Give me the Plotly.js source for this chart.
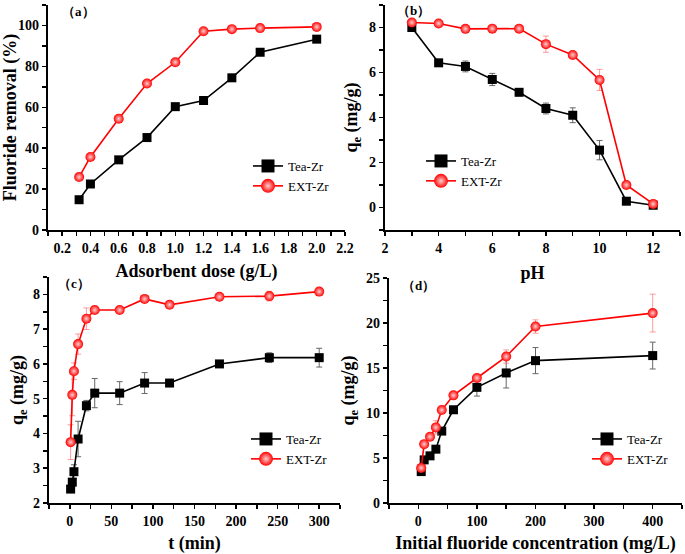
<!DOCTYPE html>
<html><head><meta charset="utf-8">
<script src="https://cdn.plot.ly/plotly-3.0.1.min.js"></script>
<style>html,body{margin:0;padding:0;background:#fff}#c{width:685px;height:554px}</style>
</head><body><div id="c"></div>
<script>
// (a) adsorbent dose
const doseX = [0.32,0.4,0.6,0.8,1.0,1.2,1.4,1.6,2.0];
const doseTea = [14.8,22.5,34.3,45.2,60.3,63.3,74.4,86.9,93.3];
const doseExt = [25.9,35.7,54.4,71.6,82.0,97.2,98.2,98.7,99.3];
// (b) pH
const phX = [3,4,5,6,7,8,9,10,11,12];
const phTea = [8.0,6.43,6.27,5.69,5.12,4.40,4.10,2.55,0.28,0.10];
const phTeaErr = [0.05,0.05,0.24,0.27,0.05,0.24,0.33,0.43,0.12,0.05];
const phExt = [8.22,8.18,7.94,7.95,7.95,7.26,6.78,5.67,1.0,0.16];
const phExtErr = [0.03,0.03,0.03,0.03,0.03,0.36,0.05,0.47,0.05,0.05];
// (c) contact time
const timeX = [1,3,5,10,20,30,60,90,120,180,240,300];
const timeTea = [2.40,2.60,2.90,3.84,4.80,5.16,5.16,5.45,5.45,6.00,6.18,6.18];
const timeTeaErr = [0.05,0.1,0.2,0.51,0.15,0.42,0.33,0.3,0.05,0.05,0.14,0.27];
const timeExt = [3.75,5.11,5.79,6.57,7.30,7.55,7.55,7.87,7.70,7.93,7.95,8.08];
const timeExtErr = [0.5,0.6,0.24,0.29,0.31,0.05,0.05,0.05,0.05,0.05,0.14,0.05];
// (d) initial fluoride concentration
const concX = [5,10,20,30,40,60,100,150,200,400];
const concTea = [3.49,4.79,5.24,5.98,7.99,10.36,12.85,14.45,15.82,16.38];
const concTeaErr = [0.2,0.2,0.3,0.3,0.2,0.2,0.97,1.67,1.45,1.49];
const concExt = [3.9,6.54,7.36,8.4,10.33,11.96,13.89,16.27,19.61,21.1];
const concExtErr = [0.2,0.2,0.3,0.74,0.3,0.2,0.2,0.74,0.74,2.1];

const seriesNames = ['Tea-Zr','EXT-Zr'];
const panelLabels = ['（a）','（b）','（c）','（d）'];
const xTitles = ['Adsorbent dose (g/L)','pH','t (min)','Initial fluoride concentration (mg/L)'];
const yTitles = ['Fluoride removal (%)','q<sub>e</sub> (mg/g)','q<sub>e</sub> (mg/g)','q<sub>e</sub> (mg/g)'];

const FONT = '"Liberation Serif", serif';
const teaMarker = {symbol:'square', size:9, color:'#000'};
const extMarker = {symbol:'circle', size:10, color:'#ff0000', gradient:{type:'radial', color:'#ffd0d0'}};
const teaErrStyle = {type:'data', visible:true, color:'#666', thickness:1, width:3};
const extErrStyle = {type:'data', visible:true, color:'rgba(255,90,90,0.6)', thickness:1, width:3};

function pair(idx, x, yT, yE, eT, eE){
  const xa = idx===1?'x':'x'+idx, ya = idx===1?'y':'y'+idx;
  const lg = idx===1?'legend':'legend'+idx;
  const out = [];
  const t = {x:x, y:yT, xaxis:xa, yaxis:ya, mode:'lines+markers', showlegend:false,
    line:{color:'#000', width:1.6}, marker:teaMarker};
  if (eT) t.error_y = Object.assign({array:eT}, teaErrStyle);
  const e = {x:x, y:yE, xaxis:xa, yaxis:ya, mode:'lines+markers', showlegend:false,
    line:{color:'#ff0000', width:1.6}, marker:extMarker};
  if (eE) e.error_y = Object.assign({array:eE}, extErrStyle);
  out.push(t, e);
  // legend entries with larger symbols
  out.push({x:[null], y:[null], xaxis:xa, yaxis:ya, mode:'lines+markers', name:seriesNames[0], legend:lg,
    line:{color:'#000', width:1.6}, marker:Object.assign({}, teaMarker, {size:13})});
  out.push({x:[null], y:[null], xaxis:xa, yaxis:ya, mode:'lines+markers', name:seriesNames[1], legend:lg,
    line:{color:'#ff0000', width:1.6}, marker:Object.assign({}, extMarker, {size:14})});
  return out;
}

const data = [].concat(
  pair(1, doseX, doseTea, doseExt, null, null),
  pair(2, phX, phTea, phExt, phTeaErr, phExtErr),
  pair(3, timeX, timeTea, timeExt, timeTeaErr, timeExtErr),
  pair(4, concX, concTea, concExt, concTeaErr, concExtErr)
);

const W = 685, H = 554;
const px = v => v/W, py = v => 1 - v/H;

function ax(dom, range, dtick, minor, anchor, title, standoff, fmt){
  const a = {domain:dom, range:range, dtick:dtick, tick0:0, anchor:anchor,
    showline:true, linecolor:'#000', linewidth:2.2, mirror:false,
    ticks:'outside', ticklen:4, tickwidth:1.5, tickcolor:'#000',
    minor:{dtick:minor, ticks:'outside', ticklen:4, tickwidth:1.5, tickcolor:'#000', showgrid:false},
    showgrid:false, zeroline:false,
    tickfont:{family:FONT, size:14, color:'#000', weight:'bold'},
    title:{text:title, font:{family:FONT, size:18, color:'#000', weight:'bold'}, standoff:standoff}};
  if (fmt) a.tickformat = fmt;
  return a;
}

const layout = {
  width:W, height:H, margin:{l:0,r:0,t:0,b:0},
  paper_bgcolor:'#fff', plot_bgcolor:'#fff', showlegend:true,
  xaxis: ax([px(48),px(345)], [0.1,2.2], 0.2, 0.1, 'y', xTitles[0], 9, '.1f'),
  yaxis: ax([py(230),py(5)], [0,110], 20, 10, 'x', yTitles[0], 3),
  xaxis2: ax([px(385),px(680)], [2,13], 2, 1, 'y2', xTitles[1], 11),
  yaxis2: ax([py(230),py(5)], [-1,9], 2, 1, 'x2', yTitles[1], 7),
  xaxis3: ax([px(49),px(340)], [-25,325], 50, 25, 'y3', xTitles[2], 9),
  yaxis3: ax([py(503),py(277)], [2,8.5], 1, 0.5, 'x3', yTitles[2], 5),
  xaxis4: ax([px(389),px(682)], [-50,450], 100, 50, 'y4', xTitles[3], 9),
  yaxis4: ax([py(503),py(278)], [0,25], 5, 2.5, 'x4', yTitles[3], 7),
  annotations: [
    [panelLabels[0], 60, 12],[panelLabels[1], 395, 10],[panelLabels[2], 56, 283],[panelLabels[3], 400, 285]
  ].map(a => ({text:a[0], xref:'paper', yref:'paper', x:px(a[1]), y:py(a[2]), xanchor:'left', yanchor:'middle',
     showarrow:false, font:{family:FONT, size:13, color:'#000', weight:'bold'}}))
};
const lgBase = {bgcolor:'rgba(0,0,0,0)', borderwidth:0, xanchor:'left', yanchor:'top', tracegroupgap:0,
  font:{family:FONT, size:13, color:'#000'}, itemsizing:'trace'};
layout.legend = Object.assign({x:px(248), y:py(151)}, lgBase);
layout.legend2 = Object.assign({x:px(421), y:py(146)}, lgBase);
layout.legend3 = Object.assign({x:px(246), y:py(424)}, lgBase);
layout.legend4 = Object.assign({x:px(587), y:py(424)}, lgBase);

Plotly.newPlot('c', data, layout, {staticPlot:true});
</script></body></html>
